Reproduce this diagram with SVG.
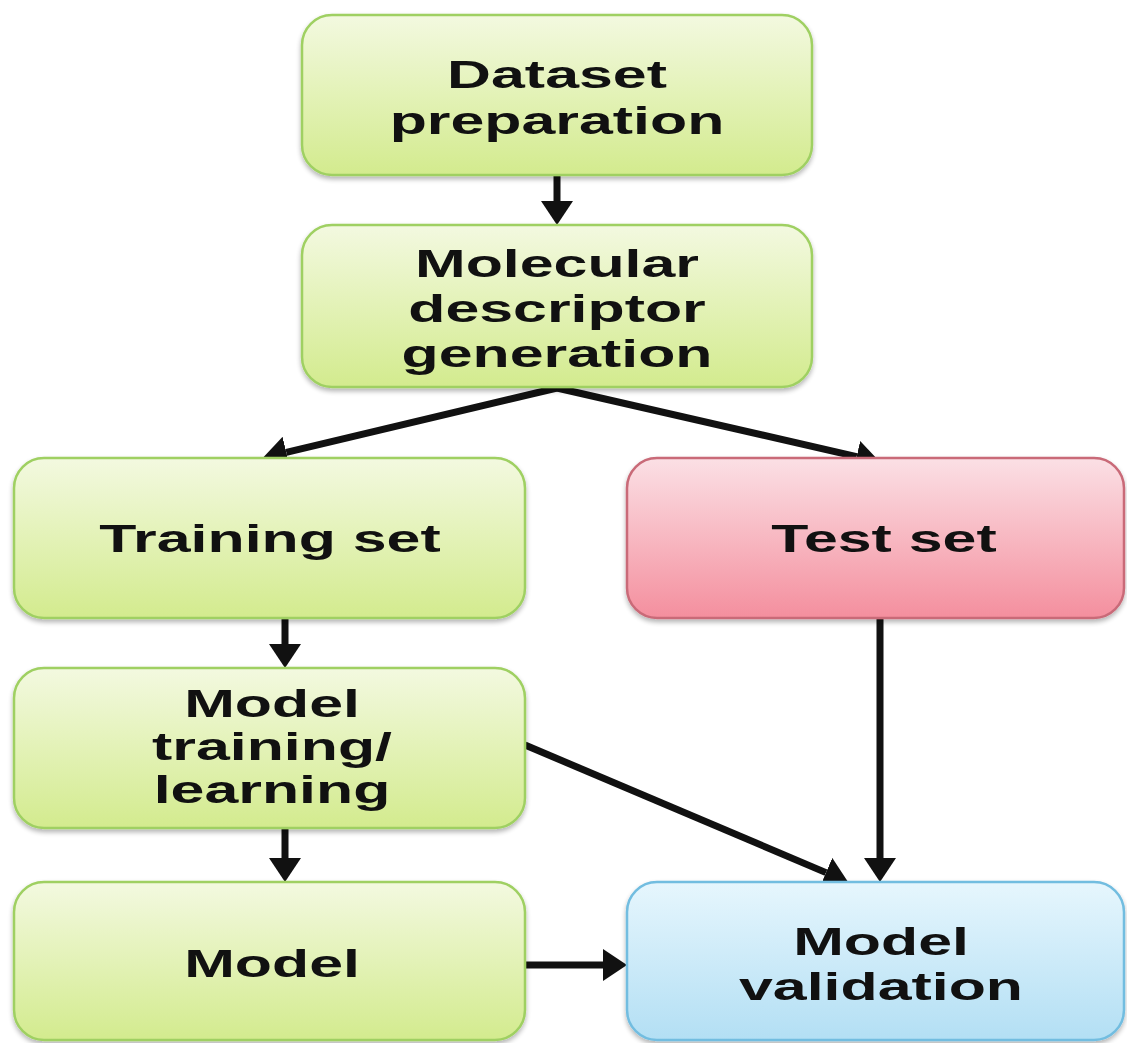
<svg xmlns="http://www.w3.org/2000/svg" width="1127" height="1043" viewBox="0 0 1127 1043">
  <defs>
    <linearGradient id="gGreen" x1="0" y1="0" x2="0" y2="1">
      <stop offset="0" stop-color="#f3f9e0"/>
      <stop offset="1" stop-color="#d3eb8e"/>
    </linearGradient>
    <linearGradient id="gPink" x1="0" y1="0" x2="0" y2="1">
      <stop offset="0" stop-color="#fbe0e5"/>
      <stop offset="1" stop-color="#f48f9e"/>
    </linearGradient>
    <linearGradient id="gBlue" x1="0" y1="0" x2="0" y2="1">
      <stop offset="0" stop-color="#e6f6fd"/>
      <stop offset="1" stop-color="#b3dff4"/>
    </linearGradient>
    <filter id="shadow" x="-5%" y="-5%" width="110%" height="115%">
      <feGaussianBlur in="SourceAlpha" stdDeviation="2.5"/>
      <feOffset dx="0" dy="3" result="b"/>
      <feComponentTransfer><feFuncA type="linear" slope="0.3"/></feComponentTransfer>
      <feMerge><feMergeNode/><feMergeNode in="SourceGraphic"/></feMerge>
    </filter>
    <marker id="arrow" viewBox="0 0 24 32" refX="0" refY="16" markerWidth="24" markerHeight="32" markerUnits="userSpaceOnUse" orient="auto">
      <path d="M0,0 L24,16 L0,32 z" fill="#111"/>
    </marker>
  </defs>
  <style>
    .box { stroke-width: 2.5; filter: url(#shadow); }
    .green { fill: url(#gGreen); stroke: #9fd062; }
    .pink { fill: url(#gPink); stroke: #c96a78; }
    .blue { fill: url(#gBlue); stroke: #72bde0; }
    .lbl { font-family: "Liberation Sans", Arial, sans-serif; font-weight: bold; font-size: 39px; fill: #111; text-anchor: middle; }
    .conn { stroke: #111; stroke-width: 7; fill: none; marker-end: url(#arrow); }
  </style>

  <rect width="1127" height="1043" fill="#ffffff"/>

  <g id="connectors">
    <line class="conn" x1="557" y1="175" x2="557" y2="201"/>
    <line class="conn" x1="557" y1="388" x2="286.3" y2="452.3"/>
    <line class="conn" x1="557" y1="388" x2="856.6" y2="456.6"/>
    <line class="conn" x1="285" y1="618" x2="285" y2="644"/>
    <line class="conn" x1="880" y1="618" x2="880" y2="858"/>
    <line class="conn" x1="525" y1="745" x2="826" y2="872.6"/>
    <line class="conn" x1="285" y1="828" x2="285" y2="858"/>
    <line class="conn" x1="525" y1="965" x2="603" y2="965"/>
  </g>

  <g id="dataset-preparation">
    <rect class="box green" x="302" y="15" width="510" height="160" rx="30"/>
    <text class="lbl" transform="translate(557 0) scale(1.56 1)"><tspan x="0" y="88">Dataset</tspan><tspan x="0" y="134">preparation</tspan></text>
  </g>

  <g id="descriptor-generation">
    <rect class="box green" x="302" y="225" width="510" height="162" rx="30"/>
    <text class="lbl" transform="translate(557 0) scale(1.56 1)"><tspan x="0" y="277">Molecular</tspan><tspan x="0" y="322">descriptor</tspan><tspan x="0" y="367">generation</tspan></text>
  </g>

  <g id="training-set">
    <rect class="box green" x="14" y="458" width="511" height="160" rx="30"/>
    <text class="lbl" transform="translate(270 0) scale(1.56 1)"><tspan x="0" y="552">Training set</tspan></text>
  </g>

  <g id="test-set">
    <rect class="box pink" x="627" y="458" width="497" height="160" rx="30"/>
    <text class="lbl" transform="translate(884 0) scale(1.56 1)"><tspan x="0" y="552">Test set</tspan></text>
  </g>

  <g id="model-training">
    <rect class="box green" x="14" y="668" width="511" height="160" rx="30"/>
    <text class="lbl" transform="translate(272 0) scale(1.56 1)"><tspan x="0" y="717">Model</tspan><tspan x="0" y="760">training/</tspan><tspan x="0" y="803">learning</tspan></text>
  </g>

  <g id="model">
    <rect class="box green" x="14" y="882" width="511" height="158" rx="30"/>
    <text class="lbl" transform="translate(272 0) scale(1.56 1)"><tspan x="0" y="977">Model</tspan></text>
  </g>

  <g id="model-validation">
    <rect class="box blue" x="627" y="882" width="497" height="158" rx="30"/>
    <text class="lbl" transform="translate(881 0) scale(1.56 1)"><tspan x="0" y="955">Model</tspan><tspan x="0" y="1000">validation</tspan></text>
  </g>
</svg>
